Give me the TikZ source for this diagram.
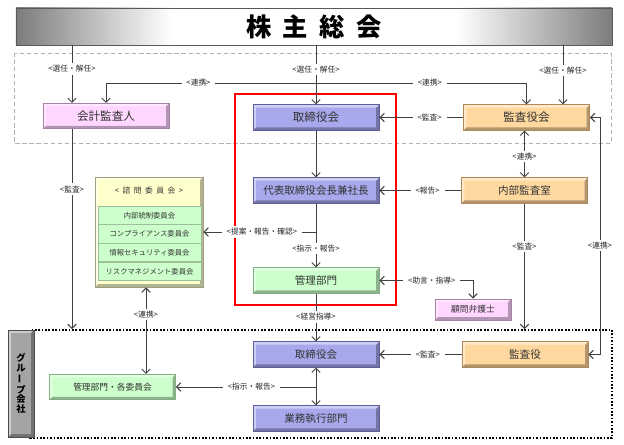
\documentclass[tikz,border=0pt]{standalone}
\usepackage{fontspec}
\setmainfont{Noto Sans CJK JP}
\usepackage{xcolor}
\usetikzlibrary{arrows.meta,positioning}
\definecolor{boxblue}{HTML}{A8A8EC}
\definecolor{edgeblue}{HTML}{5E5E9E}
\definecolor{boxpink}{HTML}{FFD6FF}
\definecolor{edgepink}{HTML}{A880A8}
\definecolor{boxorange}{HTML}{FFD8A0}
\definecolor{edgeorange}{HTML}{B08858}
\definecolor{boxgreen}{HTML}{CCFFCC}
\definecolor{edgegreen}{HTML}{80B080}
\definecolor{boxyellow}{HTML}{FFFFCC}
\definecolor{edgeyellow}{HTML}{A0A080}
\definecolor{bannergray}{HTML}{7C7C7C}
\definecolor{bargray}{HTML}{A4A4A4}
\definecolor{linegray}{HTML}{404040}
\pgfdeclarehorizontalshading{bannershade}{100bp}{color(0bp)=(bannergray); color(25bp)=(bannergray); color(38bp)=(white); color(62bp)=(white); color(75bp)=(bannergray); color(100bp)=(bannergray)}
\newcommand\kgap{\hspace{.45em}}

\begin{document}
\begin{tikzpicture}[x=0.025cm, y=-0.025cm,
  bevel/.style={path picture={
    \fill[black,opacity=.3] (path picture bounding box.south west) -- (path picture bounding box.south east)
      -- (path picture bounding box.north east) -- ([shift={(-2pt,-2pt)}]path picture bounding box.north east)
      -- ([shift={(-2pt,2pt)}]path picture bounding box.south east) -- ([shift={(2pt,2pt)}]path picture bounding box.south west) -- cycle;
    \fill[white,opacity=.45] (path picture bounding box.south west) -- (path picture bounding box.north west)
      -- (path picture bounding box.north east) -- ([shift={(-2pt,-2pt)}]path picture bounding box.north east)
      -- ([shift={(2pt,-2pt)}]path picture bounding box.north west) -- ([shift={(2pt,2pt)}]path picture bounding box.south west) -- cycle;
  }},
  box/.style={
    rectangle, draw, line width=0.6pt,
    minimum width=3.15cm, minimum height=0.63cm, inner sep=0pt,
    font=\fontsize{7.5}{9}\selectfont, text=black!80, bevel
  },
  bluebox/.style={box, fill=boxblue, draw=edgeblue},
  pinkbox/.style={box, fill=boxpink, draw=edgepink},
  orangebox/.style={box, fill=boxorange, draw=edgeorange},
  greenbox/.style={box, fill=boxgreen, draw=edgegreen},
  toprow/.style={font=\fontsize{8.2}{10}\selectfont},
  smallbox/.style={font=\fontsize{6.2}{7}\selectfont},
  rowbox/.style={
    rectangle, draw=edgegreen!80, fill=boxgreen, line width=0.5pt,
    minimum width=2.575cm, minimum height=0.4625cm, inner sep=0pt,
    font=\fontsize{5.2}{6}\selectfont, text=black!80
  },
  arr/.style={-{Straight Barb[length=3pt,width=6pt]}, line width=0.7pt, draw=linegray},
  darr/.style={arr, {Straight Barb[length=3pt,width=6pt]}-{Straight Barb[length=3pt,width=6pt]}},
  lbl/.style={fill=white, inner xsep=3.5pt, inner ysep=1.5pt, font=\fontsize{5.5}{6}\selectfont, text=black!85}
]
\useasboundingbox (0,0) rectangle (624,445);

\draw[gray!60, densely dashed, line width=0.6pt] (14,53) rectangle (611,143);
\node[draw, dash pattern=on 1.2pt off 1.2pt, line width=1.3pt, minimum width=14.55cm,
  minimum height=2.7cm, inner sep=0pt] (grpframe) at (321,384) {};
\draw[red, line width=1pt] (235,94) rectangle (396,305);

\node[draw=gray!70!black, line width=0.6pt, shade, shading=bannershade,
  minimum width=14.9cm, minimum height=0.925cm, inner sep=0pt,
  font=\fontsize{18}{20}\selectfont\bfseries] (soukai) at (314,26.5)
  {株\kgap 主\kgap 総\kgap 会};

\node[pinkbox, toprow] (kaikei) at (106,116) {会計監査人};
\node[bluebox, toprow] (torishima) at (316,117.5) {取締役会};
\node[orangebox, toprow] (kansayakukai) at (526.5,117.5) {監査役会};

\node[bluebox] (daihyo) at (316,190.5) {代表取締役会長兼社長};
\node[orangebox] (naibu) at (524.5,190.5) {内部監査室};

\node[rectangle, draw=edgeyellow, fill=boxyellow, line width=0.6pt, bevel,
  minimum width=2.7cm, minimum height=2.75cm, inner sep=0pt] (shimon) at (149,232) {};
\node[font=\fontsize{5.5}{6}\selectfont, text=black!80] (shimontitle) at (149,191)
  {<\kgap 諮\kgap 問\kgap 委\kgap 員\kgap 会\kgap >};
\node[rowbox] (shimon1) at (149.5,215.5) {内部統制委員会};
\node[rowbox] (shimon2) at (149.5,234) {コンプライアンス委員会};
\node[rowbox] (shimon3) at (149.5,252.5) {情報セキュリティ委員会};
\node[rowbox] (shimon4) at (149.5,271.5) {リスクマネジメント委員会};

\node[greenbox] (kanri) at (316,280.5) {管理部門};
\node[pinkbox, smallbox, minimum width=1.9cm, minimum height=0.525cm] (komon) at (473,309.5) {顧問弁護士};

\node[fill=bargray, draw=gray!60!black, line width=0.5pt, bevel,
  minimum width=0.65cm, minimum height=2.675cm, inner sep=0pt, align=center,
  font=\fontsize{6.6}{6.9}\selectfont\bfseries] (grpbar) at (21,383.5)
  {グ\\ル\\\rotatebox[origin=c]{90}{ー}\\プ\\会\\社};

\node[bluebox] (torishima2) at (316,354.5) {取締役会};
\node[orangebox] (kansayaku) at (525,354.5) {監査役};
\node[greenbox, smallbox] (kanri2) at (112.5,387) {管理部門・各委員会};
\node[bluebox] (gyomu) at (316,418.5) {業務執行部門};

\draw[arr] (soukai.south -| 72,0) -- (kaikei.north -| 72,0) node[lbl,pos=.41] {<選任・解任>};
\draw[arr] (soukai.south -| torishima.north) -- (torishima.north) node[lbl,pos=.41] {<選任・解任>};
\draw[arr] (soukai.south -| 563,0) -- (kansayakukai.north -| 563,0) node[lbl,pos=.43] {<選任・解任>};
\draw[darr] (kaikei.north) -- (kaikei.north |- 0,83) -- (kansayakukai.north |- 0,83)
  node[lbl,pos=.22] {<連携>} node[lbl,pos=.77] {<連携>} -- (kansayakukai.north);
\draw[arr] (kansayakukai.west) -- (torishima.east) node[lbl,pos=.4] {<監査>};
\draw[darr] (kansayaku.east) -- (kansayaku.east -| 600,0) -- (kansayakukai.east -| 600,0)
  node[lbl,pos=.46] {<連携>} -- (kansayakukai.east);

\draw[arr] (torishima.south) -- (daihyo.north);
\draw[arr] (naibu.west) -- (daihyo.east) node[lbl,pos=.41] {<報告>};
\draw[darr] (kansayakukai.south -| naibu.north) -- (naibu.north) node[lbl,pos=.55] {<連携>};
\draw[arr] (naibu.south) -- (naibu.south |- grpframe.north) node[lbl,pos=.34] {<監査>};
\draw[arr] (kaikei.south -| 72,0) -- (grpframe.north -| 72,0) node[lbl,pos=.3] {<監査>};

\draw[arr] (daihyo.south) -- (kanri.north) node[lbl,pos=.7] {<指示・報告>};
\draw[arr] (daihyo.south |- shimon.east) -- (shimon.east) node[lbl,pos=.48] {<提案・報告・確認>};
\draw[darr] (kanri.east) -- (komon.north |- kanri.east) node[lbl,pos=.56] {<助言・指導>} -- (komon.north);
\draw[arr] (kanri.south) -- (torishima2.north) node[lbl,pos=.49] {<経営指導>};
\draw[darr] (shimon.south -| 146,0) -- (kanri2.north -| 146,0) node[lbl,pos=.31] {<連携>};

\draw[arr] (kansayaku.west) -- (torishima2.east) node[lbl,pos=.41] {<監査>};
\draw[darr] (torishima2.south) -- (gyomu.north);
\draw[arr] (torishima2.south |- kanri2.east) -- (kanri2.east) node[lbl,pos=.46] {<指示・報告>};

\end{tikzpicture}
\end{document}
